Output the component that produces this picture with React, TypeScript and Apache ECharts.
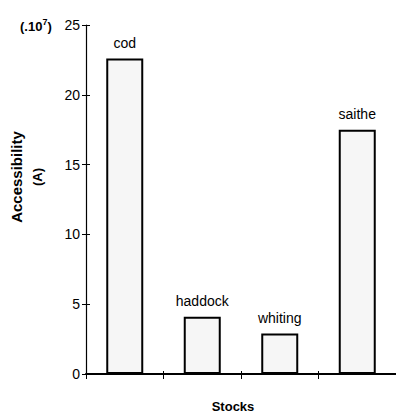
import React, { useEffect, useRef } from "react";
import * as echarts from "echarts";

const categories = ["cod", "haddock", "whiting", "saithe"];
const values = [22.6, 4.1, 2.9, 17.5];
const yTicks = { min: 0, max: 25, interval: 5 };
const yTitle = "Accessibility";
const yUnit = "(A)";
const xTitle = "Stocks";

const FONT = "Liberation Sans, Arial, Helvetica, sans-serif";

export default function App() {
  const ref = useRef<HTMLDivElement>(null);
  useEffect(() => {
    document.body.style.margin = "0";
    const chart = echarts.init(ref.current!, null, { renderer: "svg" });
    chart.setOption({
      animation: false,
      backgroundColor: "#ffffff",
      grid: { left: 86, right: 0, top: 25, bottom: 41, containLabel: false },
      xAxis: [
        {
          type: "category",
          data: categories,
          axisLine: { lineStyle: { color: "#000", width: 2 } },
          axisTick: { show: true, length: 5, lineStyle: { color: "#000", width: 1 } },
          axisLabel: { show: false },
        },
        {
          type: "category",
          data: categories,
          position: "bottom",
          axisLine: { show: false },
          axisTick: { show: true, inside: true, length: 3, lineStyle: { color: "#000", width: 1 } },
          axisLabel: { show: false },
        },
      ],
      yAxis: [
        {
          type: "value",
          min: yTicks.min,
          max: yTicks.max,
          interval: yTicks.interval,
          axisLine: { show: true, lineStyle: { color: "#000", width: 1.2 } },
          axisTick: { show: true, length: 4, lineStyle: { color: "#000", width: 1 } },
          axisLabel: { color: "#000", fontSize: 14, fontFamily: FONT, margin: 6 },
          splitLine: { show: false },
        },
        {
          type: "value",
          min: yTicks.min,
          max: yTicks.max,
          interval: yTicks.interval,
          position: "left",
          axisLine: { show: false },
          axisTick: { show: true, inside: true, length: 4, lineStyle: { color: "#000", width: 1 } },
          axisLabel: { show: false },
          splitLine: { show: false },
        },
      ],
      series: [
        {
          type: "bar",
          data: values,
          barWidth: 37,
          itemStyle: { color: "#f6f6f6", borderColor: "#000", borderWidth: 2 },
          label: {
            show: true,
            position: "top",
            distance: 9,
            formatter: "{b}",
            color: "#000",
            fontSize: 14,
            fontFamily: FONT,
          },
        },
      ],
      graphic: [
        {
          type: "text",
          x: 16,
          y: 177,
          rotation: Math.PI / 2,
          style: {
            text: yTitle,
            font: `bold 15px ${FONT}`,
            fill: "#000",
            align: "center",
            verticalAlign: "middle",
          },
        },
        {
          type: "text",
          x: 37,
          y: 177,
          rotation: Math.PI / 2,
          style: {
            text: yUnit,
            font: `bold 13px ${FONT}`,
            fill: "#000",
            align: "center",
            verticalAlign: "middle",
          },
        },
        {
          type: "text",
          x: 20,
          y: 26,
          style: {
            text: "{a|(.10}{s|7}{a|)}",
            rich: {
              a: { fontSize: 13, fontWeight: "bold", fontFamily: FONT, fill: "#000", color: "#000" },
              s: { fontSize: 9, fontWeight: "bold", fontFamily: FONT, fill: "#000", color: "#000", verticalAlign: "top", padding: [0, 0, 8, 0] },
            },
            verticalAlign: "middle",
          },
        },
        {
          type: "text",
          x: 233,
          y: 406,
          style: {
            text: xTitle,
            font: `bold 13px ${FONT}`,
            fill: "#000",
            align: "center",
            verticalAlign: "middle",
          },
        },
      ],
    });
    return () => chart.dispose();
  }, []);
  return <div ref={ref} style={{ width: 396, height: 415 }} />;
}
